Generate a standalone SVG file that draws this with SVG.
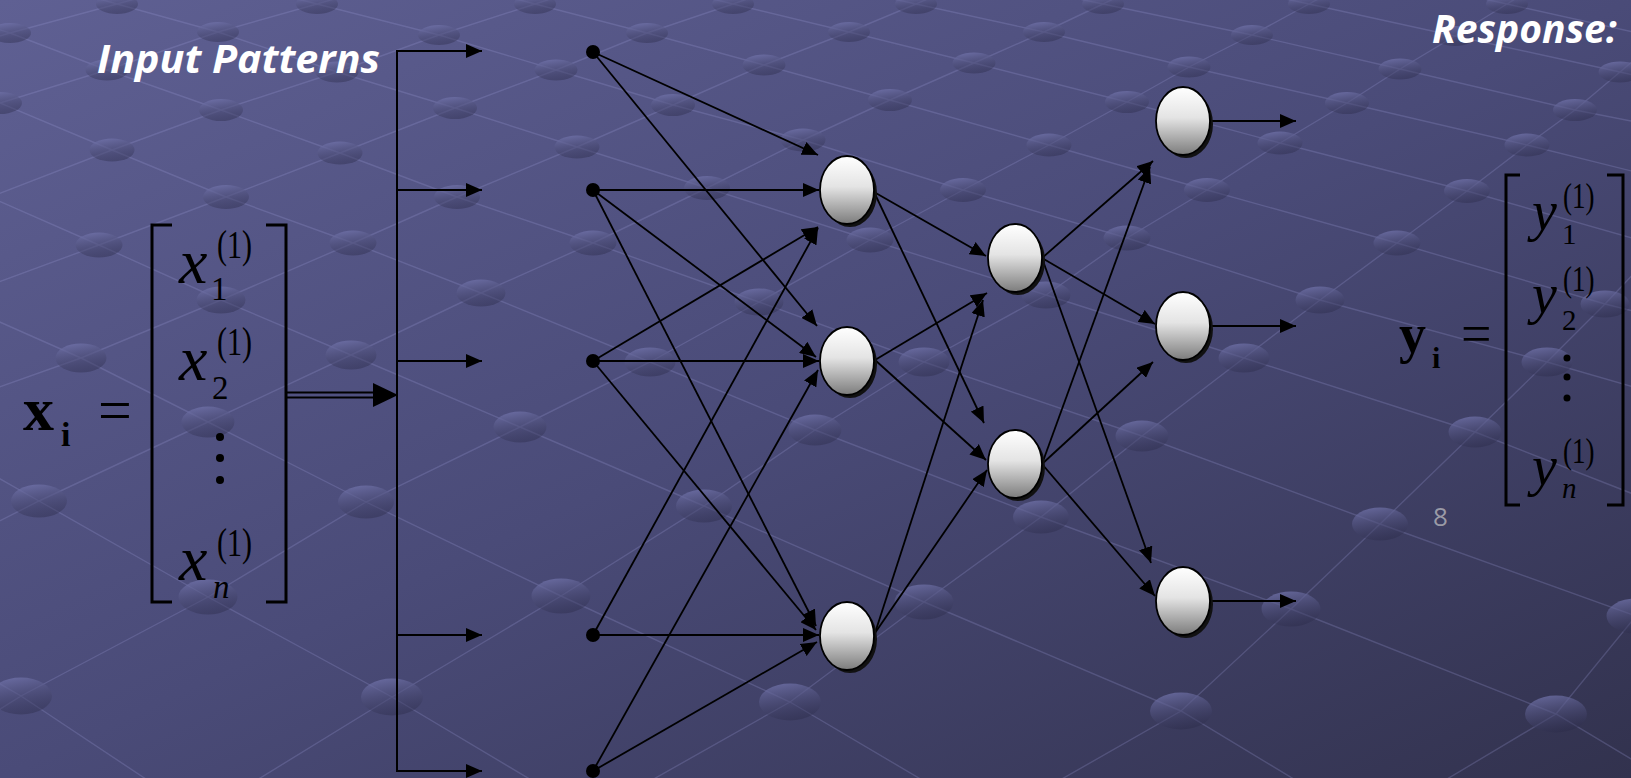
<svg xmlns="http://www.w3.org/2000/svg" width="1631" height="778" viewBox="0 0 1631 778">
  <defs>
    <linearGradient id="bg" x1="0" y1="0" x2="1" y2="1">
      <stop offset="0" stop-color="#5f6093"/>
      <stop offset="0.5" stop-color="#4a4b78"/>
      <stop offset="1" stop-color="#32324e"/>
    </linearGradient>
    <linearGradient id="beadFill" x1="0.2" y1="0" x2="0.5" y2="1">
      <stop offset="0" stop-color="#7577b0" stop-opacity="0.75"/>
      <stop offset="1" stop-color="#2a2a48" stop-opacity="0.4"/>
    </linearGradient>
    <linearGradient id="nodeFill" x1="0" y1="0" x2="0" y2="1">
      <stop offset="0" stop-color="#ffffff"/>
      <stop offset="0.45" stop-color="#e4e4e4"/>
      <stop offset="1" stop-color="#7c7c7c"/>
    </linearGradient>
    <marker id="arrow" markerUnits="userSpaceOnUse" markerWidth="16" markerHeight="14" refX="16" refY="7" orient="auto">
      <path d="M0,0 L16,7 L0,14 z" fill="#000"/>
    </marker>
    <style>
      .lattice { fill: none; stroke: #9a9ad8; stroke-opacity: 0.25; stroke-width: 1.4; }
      .bead { fill: url(#beadFill); }
      .conn { stroke: #000; stroke-width: 1.8; fill: none; marker-end: url(#arrow); }
      .bus { stroke: #000; stroke-width: 2; fill: none; }
      .dot { fill: #000; }
      .shadow { fill: #111; }
      .neuron { fill: url(#nodeFill); stroke: #000; stroke-width: 1.8; }
      .title { font-family: "Open Sans", "Liberation Sans", sans-serif; font-weight: bold; font-style: italic; fill: #ffffff; }
      .math { font-family: "Liberation Serif", "Times New Roman", serif; fill: #000; }
      .it { font-style: italic; }
      .bf { font-weight: bold; }
      .bracket { fill: none; stroke: #000; stroke-width: 3; }
      .pageno { font-family: "Open Sans", "Liberation Sans", sans-serif; fill: #9a9aa6; }
    </style>
  </defs>

  <!-- background -->
  <rect width="1631" height="778" fill="url(#bg)"/>

  <!-- perspective lattice of bead strings -->
  <g id="lattice">
    <path class="lattice" d="
      M-180,-26 L-83,4 L10,33 L107,70 L221,110 L340,153 L457,197 L593,243 L759,302 L924,362 L1142,436 L1380,524 L1636,616 L1940,718
      M10,-26 L117,4 L218,32 L337,72 L455,108 L577,147 L707,188 L870,240 L1046,295 L1244,358 L1475,432 L1720,528
      M200,-26 L317,4 L439,35 L556,70 L673,105 L803,140 L963,190 L1127,238 L1320,300 L1547,362 L1800,435
      M420,-26 L535,4 L647,33 L764,65 L890,100 L1049,145 L1207,190 L1397,243 L1605,304 L1850,365
      M610,-26 L733,4 L849,32 L974,63 L1127,102 L1280,143 L1467,191 L1660,246
      M780,-26 L916,4 L1044,32 L1189,67 L1347,103 L1527,145 L1720,193
      M960,-26 L1103,4 L1252,35 L1400,69 L1575,110 L1770,148
      M1170,-26 L1309,4 L1455,36 L1620,72 L1800,112
      M1370,-26 L1507,4 L1660,38
      M-197,33 L-115,70 L0,103 L112,150 L226,197 L353,243 L481,293 L650,362 L815,430 L1041,517 L1291,609 L1556,714 L1750,830
      M-225,105 L-120,150 L-10,197 L99,245 L221,300 L351,355 L520,427 L704,506 L924,602 L1181,711 L1370,825
      M-155,245 L-50,300 L81,358 L208,422 L366,502 L561,596 L790,702 L990,820
      M-200,358 L-100,422 L39,501 L208,597 L392,697 L590,815
      M-290,501 L-150,597 L21,696 L200,815
      M-170,815 L21,696 L208,597 L366,502 L520,427 L650,362 L759,302 L870,240 L963,190 L1049,145 L1127,102 L1189,67 L1252,35 L1309,4 L1364,-26
      M200,815 L392,697 L561,596 L704,506 L815,430 L924,362 L1046,295 L1127,238 L1207,190 L1280,143 L1347,103 L1400,69 L1455,36 L1507,4 L1556,-26
      M590,815 L790,702 L924,602 L1041,517 L1142,436 L1244,358 L1320,300 L1397,243 L1467,191 L1527,145 L1575,110 L1620,72 L1660,38 L1705,4
      M990,820 L1181,711 L1291,609 L1380,524 L1475,432 L1547,362 L1605,304 L1660,246 L1720,193
      M1370,825 L1556,714 L1636,616 L1720,528
      M-360,696 L-150,597 L39,501 L208,422 L351,355 L481,293 L593,243 L707,188 L803,140 L890,100 L974,63 L1044,32 L1103,4 L1165,-26
      M-290,501 L-100,422 L81,358 L221,300 L353,243 L457,197 L577,147 L673,105 L764,65 L849,32 L916,4 L985,-26
      M-200,358 L-50,300 L99,245 L226,197 L340,153 L455,108 L556,70 L647,33 L733,4 L820,-26
      M-155,245 L-10,197 L112,150 L221,110 L337,72 L439,35 L535,4 L630,-26
      M-120,150 L0,103 L107,70 L218,32 L317,4 L420,-26
      M-225,105 L-115,70 L10,33 L117,4 L225,-26"/>
    <g class="bead">
      <ellipse cx="117" cy="4" rx="21" ry="10"/><ellipse cx="317" cy="4" rx="21" ry="10"/><ellipse cx="535" cy="4" rx="21" ry="10"/><ellipse cx="733" cy="4" rx="21" ry="10"/><ellipse cx="916" cy="4" rx="21" ry="10"/><ellipse cx="1103" cy="4" rx="21" ry="10"/><ellipse cx="1309" cy="4" rx="21" ry="10"/><ellipse cx="1507" cy="4" rx="21" ry="10"/>
      <ellipse cx="10" cy="33" rx="21" ry="10"/><ellipse cx="218" cy="32" rx="21" ry="10"/><ellipse cx="439" cy="35" rx="21" ry="10"/><ellipse cx="647" cy="33" rx="21" ry="10"/><ellipse cx="849" cy="32" rx="21" ry="10"/><ellipse cx="1044" cy="32" rx="21" ry="10"/><ellipse cx="1252" cy="35" rx="21" ry="10"/><ellipse cx="1455" cy="36" rx="21" ry="10"/>
      <ellipse cx="107" cy="70" rx="21.5" ry="10.5"/><ellipse cx="337" cy="72" rx="21.5" ry="10.5"/><ellipse cx="556" cy="70" rx="21.5" ry="10.5"/><ellipse cx="764" cy="65" rx="21.5" ry="10.5"/><ellipse cx="974" cy="63" rx="21.5" ry="10.5"/><ellipse cx="1189" cy="67" rx="21.5" ry="10.5"/><ellipse cx="1400" cy="69" rx="21.5" ry="10.5"/><ellipse cx="1620" cy="72" rx="21.5" ry="10.5"/>
      <ellipse cx="0" cy="103" rx="22" ry="11"/><ellipse cx="221" cy="110" rx="22" ry="11"/><ellipse cx="455" cy="108" rx="22" ry="11"/><ellipse cx="673" cy="105" rx="22" ry="11"/><ellipse cx="890" cy="100" rx="22" ry="11"/><ellipse cx="1127" cy="102" rx="22" ry="11"/><ellipse cx="1347" cy="103" rx="22" ry="11"/><ellipse cx="1575" cy="110" rx="22" ry="11"/>
      <ellipse cx="112" cy="150" rx="22.5" ry="11.5"/><ellipse cx="340" cy="153" rx="22.5" ry="11.5"/><ellipse cx="577" cy="147" rx="22.5" ry="11.5"/><ellipse cx="803" cy="140" rx="22.5" ry="11.5"/><ellipse cx="1049" cy="145" rx="22.5" ry="11.5"/><ellipse cx="1280" cy="143" rx="22.5" ry="11.5"/><ellipse cx="1527" cy="145" rx="22.5" ry="11.5"/>
      <ellipse cx="226" cy="197" rx="23" ry="12"/><ellipse cx="457" cy="197" rx="23" ry="12"/><ellipse cx="707" cy="188" rx="23" ry="12"/><ellipse cx="963" cy="190" rx="23" ry="12"/><ellipse cx="1207" cy="190" rx="23" ry="12"/><ellipse cx="1467" cy="191" rx="23" ry="12"/>
      <ellipse cx="99" cy="245" rx="23.5" ry="12.5"/><ellipse cx="353" cy="243" rx="23.5" ry="12.5"/><ellipse cx="593" cy="243" rx="23.5" ry="12.5"/><ellipse cx="870" cy="240" rx="23.5" ry="12.5"/><ellipse cx="1127" cy="238" rx="23.5" ry="12.5"/><ellipse cx="1397" cy="243" rx="23.5" ry="12.5"/>
      <ellipse cx="221" cy="300" rx="24.5" ry="13.5"/><ellipse cx="481" cy="293" rx="24.5" ry="13.5"/><ellipse cx="759" cy="302" rx="24.5" ry="13.5"/><ellipse cx="1046" cy="295" rx="24.5" ry="13.5"/><ellipse cx="1320" cy="300" rx="24.5" ry="13.5"/><ellipse cx="1605" cy="304" rx="24.5" ry="13.5"/>
      <ellipse cx="81" cy="358" rx="25.5" ry="14.5"/><ellipse cx="351" cy="355" rx="25.5" ry="14.5"/><ellipse cx="650" cy="362" rx="25.5" ry="14.5"/><ellipse cx="924" cy="362" rx="25.5" ry="14.5"/><ellipse cx="1244" cy="358" rx="25.5" ry="14.5"/><ellipse cx="1547" cy="362" rx="25.5" ry="14.5"/>
      <ellipse cx="208" cy="422" rx="26.5" ry="15.5"/><ellipse cx="520" cy="427" rx="26.5" ry="15.5"/><ellipse cx="815" cy="430" rx="26.5" ry="15.5"/><ellipse cx="1142" cy="436" rx="26.5" ry="15.5"/><ellipse cx="1475" cy="432" rx="26.5" ry="15.5"/>
      <ellipse cx="39" cy="501" rx="28" ry="16.5"/><ellipse cx="366" cy="502" rx="28" ry="16.5"/><ellipse cx="704" cy="506" rx="28" ry="16.5"/><ellipse cx="1041" cy="517" rx="28" ry="16.5"/><ellipse cx="1380" cy="524" rx="28" ry="16.5"/>
      <ellipse cx="208" cy="597" rx="29.5" ry="17.5"/><ellipse cx="561" cy="596" rx="29.5" ry="17.5"/><ellipse cx="924" cy="602" rx="29.5" ry="17.5"/><ellipse cx="1291" cy="609" rx="29.5" ry="17.5"/><ellipse cx="1636" cy="616" rx="29.5" ry="17.5"/>
      <ellipse cx="21" cy="696" rx="31" ry="18.5"/><ellipse cx="392" cy="697" rx="31" ry="18.5"/><ellipse cx="790" cy="702" rx="31" ry="18.5"/><ellipse cx="1181" cy="711" rx="31" ry="18.5"/><ellipse cx="1556" cy="714" rx="31" ry="18.5"/>
    </g>
  </g>

  <!-- headings -->
  <text id="label-input" class="title" x="97" y="73" font-size="40" textLength="283" lengthAdjust="spacingAndGlyphs">Input Patterns</text>
  <text id="label-response" class="title" x="1432" y="43" font-size="40" textLength="185" lengthAdjust="spacingAndGlyphs">Response:</text>
  <text id="page-number" class="pageno" x="1433" y="526" font-size="26">8</text>

  <!-- input vector x_i -->
  <g id="input-vector" class="math">
    <text class="bf" x="23" y="430" font-size="62">x</text>
    <text class="bf" x="61" y="446" font-size="34">i</text>
    <text x="98" y="430" font-size="60">=</text>
    <path class="bracket" d="M172,225 H152 V602 H172 M266,225 H286 V602 H266"/>
    <text class="it" x="179" y="283" font-size="64">x</text>
    <text x="211" y="300" font-size="33">1</text>
    <text transform="translate(217,258) scale(1,1.3)" font-size="30">(1)</text>
    <text class="it" x="179" y="380" font-size="64">x</text>
    <text x="212" y="399" font-size="33">2</text>
    <text transform="translate(217,355) scale(1,1.3)" font-size="30">(1)</text>
    <circle cx="220" cy="437" r="4"/>
    <circle cx="220" cy="458" r="4"/>
    <circle cx="220" cy="480" r="4"/>
    <text class="it" x="179" y="580" font-size="64">x</text>
    <text class="it" x="213" y="598" font-size="33">n</text>
    <text transform="translate(217,556) scale(1,1.3)" font-size="30">(1)</text>
  </g>

  <!-- output vector y_i -->
  <g id="output-vector" class="math">
    <text class="bf" x="1399" y="352" font-size="54">y</text>
    <text class="bf" x="1432" y="368" font-size="30">i</text>
    <text x="1461" y="352" font-size="54">=</text>
    <path class="bracket" d="M1520,175 H1506 V505 H1520 M1607,175 H1623 V505 H1607"/>
    <text class="it" x="1532" y="230" font-size="56">y</text>
    <text x="1562" y="244" font-size="29">1</text>
    <text transform="translate(1563,208) scale(1,1.3)" font-size="27">(1)</text>
    <text class="it" x="1532" y="313" font-size="56">y</text>
    <text x="1562" y="330" font-size="29">2</text>
    <text transform="translate(1563,291) scale(1,1.3)" font-size="27">(1)</text>
    <circle cx="1567" cy="358" r="3.5"/>
    <circle cx="1567" cy="377" r="3.5"/>
    <circle cx="1567" cy="398" r="3.5"/>
    <text class="it" x="1532" y="485" font-size="56">y</text>
    <text class="it" x="1562" y="498" font-size="29">n</text>
    <text transform="translate(1563,463) scale(1,1.3)" font-size="27">(1)</text>
  </g>

  <!-- connectors -->
  <g id="connectors">
    <!-- vector feed into the distribution bus -->
    <path d="M287,392.5 H376 M287,397.5 H376" stroke="#000" stroke-width="2.2" fill="none"/>
    <path d="M373,383 L398,395 L373,407 z" fill="#000"/>
    <path class="bus" d="M397,51 V771"/>
    <line class="conn" x1="396" y1="51" x2="482" y2="51"/>
    <line class="conn" x1="397" y1="190" x2="482" y2="190"/>
    <line class="conn" x1="397" y1="361" x2="482" y2="361"/>
    <line class="conn" x1="397" y1="635" x2="482" y2="635"/>
    <line class="conn" x1="396" y1="771" x2="482" y2="771"/>
    <!-- input layer to first hidden layer -->
    <line class="conn" x1="593" y1="52" x2="818" y2="155"/>
    <line class="conn" x1="593" y1="52" x2="817" y2="326"/>
    <line class="conn" x1="593" y1="190" x2="819" y2="190"/>
    <line class="conn" x1="593" y1="190" x2="816" y2="357"/>
    <line class="conn" x1="593" y1="190" x2="816" y2="626"/>
    <line class="conn" x1="593" y1="361" x2="818" y2="227"/>
    <line class="conn" x1="593" y1="361" x2="819" y2="361"/>
    <line class="conn" x1="593" y1="361" x2="816" y2="630"/>
    <line class="conn" x1="593" y1="635" x2="818" y2="228"/>
    <line class="conn" x1="593" y1="635" x2="819" y2="635"/>
    <line class="conn" x1="593" y1="771" x2="818" y2="370"/>
    <line class="conn" x1="593" y1="771" x2="817" y2="642"/>
    <!-- first hidden layer to second hidden layer -->
    <line class="conn" x1="874" y1="192" x2="986" y2="256"/>
    <line class="conn" x1="874" y1="192" x2="984" y2="423"/>
    <line class="conn" x1="875" y1="360" x2="987" y2="293"/>
    <line class="conn" x1="875" y1="360" x2="986" y2="460"/>
    <line class="conn" x1="875" y1="633" x2="983" y2="300"/>
    <line class="conn" x1="875" y1="633" x2="987" y2="470"/>
    <!-- second hidden layer to output layer -->
    <line class="conn" x1="1042" y1="258" x2="1153" y2="161"/>
    <line class="conn" x1="1042" y1="258" x2="1155" y2="324"/>
    <line class="conn" x1="1042" y1="258" x2="1151" y2="563"/>
    <line class="conn" x1="1042" y1="464" x2="1150" y2="167"/>
    <line class="conn" x1="1042" y1="464" x2="1153" y2="362"/>
    <line class="conn" x1="1042" y1="464" x2="1155" y2="596"/>
    <!-- responses -->
    <line class="conn" x1="1211" y1="121" x2="1296" y2="121"/>
    <line class="conn" x1="1211" y1="326" x2="1296" y2="326"/>
    <line class="conn" x1="1211" y1="601" x2="1296" y2="601"/>
  </g>

  <!-- input terminals -->
  <g id="in1"><circle class="dot" cx="593" cy="52" r="7"/></g>
  <g id="in2"><circle class="dot" cx="593" cy="190" r="7"/></g>
  <g id="in3"><circle class="dot" cx="593" cy="361" r="7"/></g>
  <g id="in4"><circle class="dot" cx="593" cy="635" r="7"/></g>
  <g id="in5"><circle class="dot" cx="593" cy="771" r="7"/></g>

  <!-- first hidden layer -->
  <g id="h1a"><ellipse class="shadow" cx="850" cy="193" rx="27" ry="34"/><ellipse class="neuron" cx="847" cy="190" rx="27" ry="34"/></g>
  <g id="h1b"><ellipse class="shadow" cx="850" cy="364" rx="27" ry="34"/><ellipse class="neuron" cx="847" cy="361" rx="27" ry="34"/></g>
  <g id="h1c"><ellipse class="shadow" cx="850" cy="639" rx="27" ry="34"/><ellipse class="neuron" cx="847" cy="636" rx="27" ry="34"/></g>

  <!-- second hidden layer -->
  <g id="h2a"><ellipse class="shadow" cx="1018" cy="261" rx="27" ry="34"/><ellipse class="neuron" cx="1015" cy="258" rx="27" ry="34"/></g>
  <g id="h2b"><ellipse class="shadow" cx="1018" cy="467" rx="27" ry="34"/><ellipse class="neuron" cx="1015" cy="464" rx="27" ry="34"/></g>

  <!-- output layer -->
  <g id="out1"><ellipse class="shadow" cx="1186" cy="124" rx="27" ry="34"/><ellipse class="neuron" cx="1183" cy="121" rx="27" ry="34"/></g>
  <g id="out2"><ellipse class="shadow" cx="1186" cy="329" rx="27" ry="34"/><ellipse class="neuron" cx="1183" cy="326" rx="27" ry="34"/></g>
  <g id="out3"><ellipse class="shadow" cx="1186" cy="604" rx="27" ry="34"/><ellipse class="neuron" cx="1183" cy="601" rx="27" ry="34"/></g>
</svg>
